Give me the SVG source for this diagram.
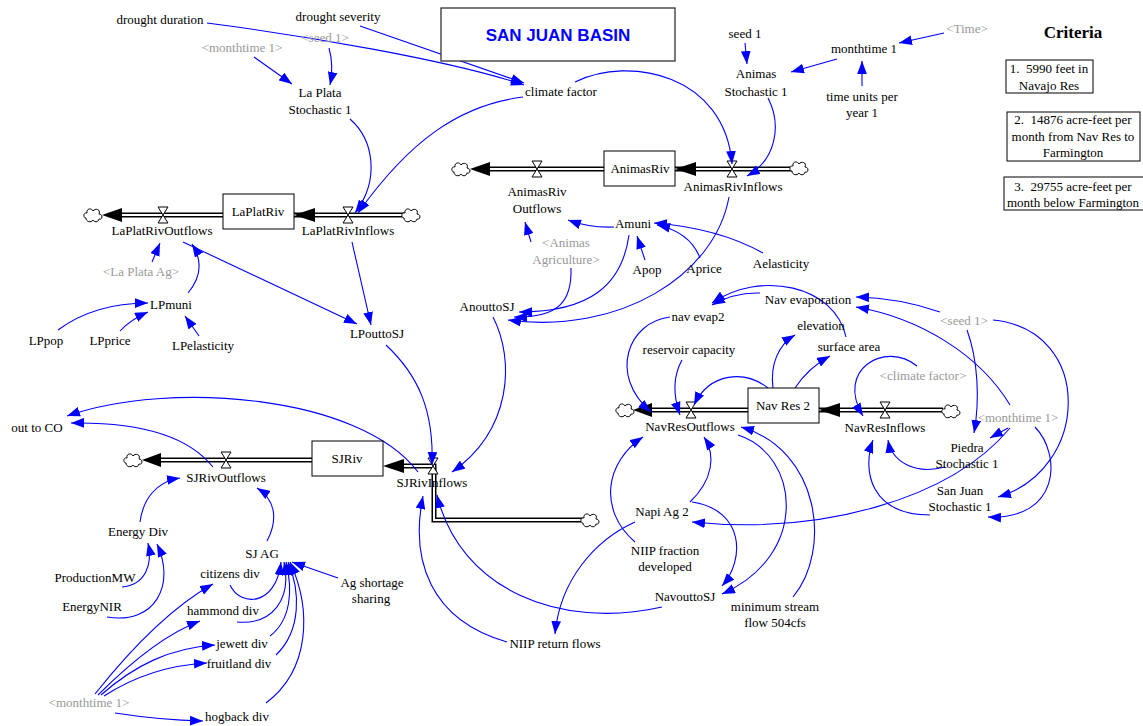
<svg xmlns="http://www.w3.org/2000/svg" width="1143" height="726" viewBox="0 0 1143 726">
<defs>
<style>
text{font-family:"Liberation Serif","Times New Roman",serif;font-size:13px;fill:#000;text-anchor:middle}
.g{fill:#999}
.pre{white-space:pre}
.c{fill:none;stroke:#0000ff;stroke-width:1.1;marker-end:url(#a)}
.box{fill:#fff;stroke:#000;stroke-width:1}
.po{fill:none;stroke:#000;stroke-width:5}
.pi{fill:none;stroke:#fff;stroke-width:2}
.ah{fill:#000}
.vl{fill:#fff;stroke:#000;stroke-width:1}
.cl{fill:#fff;stroke:#000;stroke-width:1}
</style>
<marker id="a" markerUnits="userSpaceOnUse" markerWidth="13" markerHeight="10" refX="12" refY="4.5" orient="auto" viewBox="0 0 12 9"><path d="M0,0 L12,4.5 L0,9 z" fill="#0000ff"/></marker>
<path id="cloud" d="M-7,3 C-10,3 -10,-3 -6,-2 C-7,-7 -1,-7 0,-4 C2,-7 8,-6 6,-1 C10,-1 10,5 6,4 C5,8 1,7 0,5 C-2,8 -7,7 -7,3 Z"/>
<path id="valve" d="M-5,-8 H5 L-5,8 H5 Z"/>
</defs>
<rect width="1143" height="726" fill="#fff"/>

<!-- flows / pipes -->
<g id="pipes">
<!-- La Plata -->
<path class="po" d="M120,215 H223 M294,215 H405"/>
<path class="pi" d="M120,215 H223 M294,215 H405"/>
<polygon class="ah" points="102,215 122,208 122,222"/>
<polygon class="ah" points="294,215 315,208 315,222"/>
<use href="#cloud" class="cl" x="93" y="215"/>
<use href="#cloud" class="cl" x="411" y="215"/>
<use href="#valve" class="vl" x="163" y="215"/>
<use href="#valve" class="vl" x="348" y="215"/>
<!-- Animas -->
<path class="po" d="M488,169 H604 M675,169 H792"/>
<path class="pi" d="M488,169 H604 M675,169 H792"/>
<polygon class="ah" points="470,169 490,162 490,176"/>
<polygon class="ah" points="675,169 696,162 696,176"/>
<use href="#cloud" class="cl" x="461" y="169"/>
<use href="#cloud" class="cl" x="799" y="168"/>
<use href="#valve" class="vl" x="537" y="169"/>
<use href="#valve" class="vl" x="732" y="169"/>
<!-- SJ -->
<path class="po" d="M158,460 H312"/>
<path class="pi" d="M158,460 H312"/>
<path class="po" d="M403,466 H434 V520 H583"/>
<path class="pi" d="M403,466 H434 V520 H583"/>
<polygon class="ah" points="142,460 161,453 161,467"/>
<polygon class="ah" points="383,466 404,459 404,473"/>
<use href="#cloud" class="cl" x="133" y="460"/>
<use href="#cloud" class="cl" x="590" y="520"/>
<use href="#valve" class="vl" x="226" y="460"/>
<use href="#valve" class="vl" x="433" y="466"/>
<!-- Nav -->
<path class="po" d="M650,410 H748 M819,410 H943"/>
<path class="pi" d="M650,410 H748 M819,410 H943"/>
<polygon class="ah" points="633,410 652,403 652,417"/>
<polygon class="ah" points="819,410 840,403 840,417"/>
<use href="#cloud" class="cl" x="625" y="410"/>
<use href="#cloud" class="cl" x="951" y="411"/>
<use href="#valve" class="vl" x="691" y="410"/>
<use href="#valve" class="vl" x="885" y="410"/>
</g>

<!-- connectors -->
<g id="connectors">
<path class="c" d="M207,23 C300,35 450,60 524,85"/>
<path class="c" d="M360,26 L524,83"/>
<path class="c" d="M254,57 L292,84"/>
<path class="c" d="M329,48 Q334,66 330,85"/>
<path class="c" d="M350,119 C374,140 380,180 355,213"/>
<path class="c" d="M523,97 C460,105 410,140 358,213"/>
<path class="c" d="M575,82 C630,55 725,75 732,164"/>
<path class="c" d="M745,43 L747,64"/>
<path class="c" d="M837,59 L791,72"/>
<path class="c" d="M944,33 L899,43"/>
<path class="c" d="M862,86 L862,61"/>
<path class="c" d="M768,98 C782,125 776,160 747,176"/>
<path class="c" d="M729,197 C715,275 620,335 508,320"/>
<path class="c" d="M614,227 Q590,228 568,220"/>
<path class="c" d="M531,242 L525,222"/>
<path class="c" d="M645,260 L637,236"/>
<path class="c" d="M700,258 Q690,232 657,225"/>
<path class="c" d="M763,253 Q718,228 654,223"/>
<path class="c" d="M629,235 C622,285 590,312 519,312"/>
<path class="c" d="M571,268 C572,300 560,318 514,317"/>
<path class="c" d="M152,262 L160,243"/>
<path class="c" d="M188,293 C203,275 201,258 192,244"/>
<path class="c" d="M58,330 C85,310 115,303 148,303"/>
<path class="c" d="M120,331 Q130,320 148,312"/>
<path class="c" d="M199,336 L185,316"/>
<path class="c" d="M183,242 L357,324"/>
<path class="c" d="M352,242 L371,325"/>
<path class="c" d="M386,345 C418,375 434,410 432,465"/>
<path class="c" d="M493,317 C515,360 512,430 452,472"/>
<path class="c" d="M418,472 C360,395 170,380 67,416"/>
<path class="c" d="M213,467 C185,432 130,422 71,423"/>
<path class="c" d="M140,522 C143,500 155,482 180,478"/>
<path class="c" d="M267,541 C278,520 276,500 257,488"/>
<path class="c" d="M122,587 C145,585 153,565 148,543"/>
<path class="c" d="M107,617 C155,625 176,585 157,544"/>
<path class="c" d="M230,585 C240,607 276,607 281,562"/>
<path class="c" d="M237,622 C272,625 292,600 284,562"/>
<path class="c" d="M270,636 C291,620 293,590 286,562"/>
<path class="c" d="M276,655 C302,630 300,590 288,562"/>
<path class="c" d="M266,703 C310,670 312,610 290,562"/>
<path class="c" d="M338,578 L292,562"/>
<path class="c" d="M95,694 C130,650 170,608 213,584"/>
<path class="c" d="M98,695 C130,663 165,634 200,621"/>
<path class="c" d="M101,695 C135,665 170,648 215,645"/>
<path class="c" d="M104,696 C135,676 170,665 207,663"/>
<path class="c" d="M115,713 Q160,720 203,721"/>
<path class="c" d="M670,317 C628,322 608,375 651,412"/>
<path class="c" d="M682,360 C672,378 674,398 680,415"/>
<path class="c" d="M768,388 C745,370 710,372 694,405"/>
<path class="c" d="M773,388 C770,365 778,345 795,335"/>
<path class="c" d="M795,388 Q808,368 830,356"/>
<path class="c" d="M846,337 C835,285 760,270 712,303"/>
<path class="c" d="M760,293 Q735,292 712,305"/>
<path class="c" d="M940,312 Q900,298 856,297"/>
<path class="c" d="M1010,405 C980,355 920,318 856,307"/>
<path class="c" d="M967,330 C978,360 980,400 974,433"/>
<path class="c" d="M993,320 C1095,330 1090,470 998,497"/>
<path class="c" d="M1035,427 C1062,455 1060,520 988,517"/>
<path class="c" d="M1008,428 L990,438"/>
<path class="c" d="M917,366 C885,340 835,370 863,416"/>
<path class="c" d="M945,467 C915,475 892,462 888,440"/>
<path class="c" d="M930,515 C870,515 862,470 873,440"/>
<path class="c" d="M1010,428 C950,500 820,535 692,522"/>
<path class="c" d="M690,502 C713,480 716,455 704,437"/>
<path class="c" d="M635,542 C598,510 605,462 643,437"/>
<path class="c" d="M692,502 C745,510 745,560 722,586"/>
<path class="c" d="M738,435 C800,455 810,555 722,594"/>
<path class="c" d="M793,597 C832,550 820,450 741,427"/>
<path class="c" d="M662,607 C560,630 460,590 437,495"/>
<path class="c" d="M507,642 C430,620 410,560 423,496"/>
<path class="c" d="M635,522 C595,540 560,580 555,634"/>
</g>

<!-- nodes -->
<g id="title"><rect x="441" y="8" width="234" height="53" fill="#fff" stroke="#333" stroke-width="1.3"/><text x="558" y="41" style="font-family:'Liberation Sans',Arial,sans-serif;font-size:17px;font-weight:bold;fill:#0000ff">SAN JUAN BASIN</text></g>
<g id="criteria"><text x="1073" y="38" style="font-size:17px;font-weight:bold">Criteria</text></g>
<g id="crit1"><rect class="box" x="1006" y="60" width="87" height="33"/><text class="pre" x="1049" y="73">1.  5990 feet in</text><text x="1049" y="90">Navajo Res</text></g>
<g id="crit2"><rect class="box" x="1007" y="112" width="133" height="49"/><text class="pre" x="1073" y="124">2.  14876 acre-feet per</text><text x="1073" y="141">month from Nav Res to</text><text x="1073" y="157">Farmington</text></g>
<g id="crit3"><rect class="box" x="1004" y="177" width="142" height="33"/><text class="pre" x="1073" y="191">3.  29755 acre-feet per</text><text x="1073" y="207">month below Farmington</text></g>

<g id="drought_duration"><text x="160" y="24">drought duration</text></g>
<g id="drought_severity"><text x="338" y="21">drought severity</text></g>
<g id="monthtime1_ref_a"><text class="g" x="242" y="52">&lt;monthtime 1&gt;</text></g>
<g id="seed1_ref_a"><text class="g" x="325" y="42">&lt;seed 1&gt;</text></g>
<g id="la_plata_stochastic"><text x="320" y="97">La Plata</text><text x="320" y="114">Stochastic 1</text></g>
<g id="climate_factor"><text x="561" y="96">climate factor</text></g>
<g id="seed1"><text x="745" y="38">seed 1</text></g>
<g id="animas_stochastic"><text x="756" y="78">Animas</text><text x="756" y="96">Stochastic 1</text></g>
<g id="monthtime1"><text x="864" y="53">monthtime 1</text></g>
<g id="time_ref"><text class="g" x="967" y="33">&lt;Time&gt;</text></g>
<g id="time_units"><text x="862" y="101">time units per</text><text x="862" y="117">year 1</text></g>

<g id="LaPlatRiv"><rect class="box" x="223" y="194" width="71" height="35"/><text x="258" y="216">LaPlatRiv</text></g>
<g id="LaPlatRivOutflows"><text x="162" y="235">LaPlatRivOutflows</text></g>
<g id="LaPlatRivInflows"><text x="348" y="235">LaPlatRivInflows</text></g>
<g id="la_plata_ag_ref"><text class="g" x="141" y="276">&lt;La Plata Ag&gt;</text></g>
<g id="LPmuni"><text x="171" y="309">LPmuni</text></g>
<g id="LPpop"><text x="46" y="345">LPpop</text></g>
<g id="LPprice"><text x="110" y="345">LPprice</text></g>
<g id="LPelasticity"><text x="203" y="350">LPelasticity</text></g>
<g id="LPouttoSJ"><text x="377" y="338">LPouttoSJ</text></g>

<g id="AnimasRiv"><rect class="box" x="604" y="151" width="71" height="35"/><text x="640" y="173">AnimasRiv</text></g>
<g id="AnimasRivOutflows"><text x="537" y="196">AnimasRiv</text><text x="537" y="213">Outflows</text></g>
<g id="AnimasRivInflows"><text x="733" y="191">AnimasRivInflows</text></g>
<g id="Amuni"><text x="633" y="228">Amuni</text></g>
<g id="animas_ag_ref"><text class="g" x="566" y="247">&lt;Animas</text><text class="g" x="566" y="264">Agriculture&gt;</text></g>
<g id="Apop"><text x="647" y="274">Apop</text></g>
<g id="Aprice"><text x="704" y="273">Aprice</text></g>
<g id="Aelasticity"><text x="781" y="268">Aelasticity</text></g>
<g id="AnouttoSJ"><text x="487" y="311">AnouttoSJ</text></g>

<g id="nav_evap2"><text x="698" y="321">nav evap2</text></g>
<g id="nav_evaporation"><text x="808" y="304">Nav evaporation</text></g>
<g id="elevation"><text x="821" y="330">elevation</text></g>
<g id="surface_area"><text x="849" y="351">surface area</text></g>
<g id="reservoir_capacity"><text x="689" y="354">reservoir capacity</text></g>
<g id="NavRes2"><rect class="box" x="748" y="388" width="71" height="35"/><text x="783" y="410">Nav Res 2</text></g>
<g id="NavResOutflows"><text x="690" y="431">NavResOutflows</text></g>
<g id="NavResInflows"><text x="885" y="432">NavResInflows</text></g>
<g id="climate_factor_ref"><text class="g" x="923" y="380">&lt;climate factor&gt;</text></g>
<g id="seed1_ref_b"><text class="g" x="964" y="325">&lt;seed 1&gt;</text></g>
<g id="monthtime1_ref_b"><text class="g" x="1018" y="422">&lt;monthtime 1&gt;</text></g>
<g id="piedra_stochastic"><text x="967" y="452">Piedra</text><text x="967" y="468">Stochastic 1</text></g>
<g id="san_juan_stochastic"><text x="960" y="495">San Juan</text><text x="960" y="511">Stochastic 1</text></g>

<g id="SJRiv"><rect class="box" x="312" y="441" width="71" height="35"/><text x="347" y="463">SJRiv</text></g>
<g id="SJRivOutflows"><text x="226" y="482">SJRivOutflows</text></g>
<g id="SJRivInflows"><text x="432" y="487">SJRivInflows</text></g>
<g id="out_to_CO"><text x="37" y="432">out to CO</text></g>
<g id="energy_div"><text x="138" y="536">Energy Div</text></g>
<g id="ProductionMW"><text x="95" y="582">ProductionMW</text></g>
<g id="EnergyNIR"><text x="92" y="611">EnergyNIR</text></g>
<g id="SJ_AG"><text x="262" y="558">SJ AG</text></g>
<g id="citizens_div"><text x="230" y="578">citizens div</text></g>
<g id="hammond_div"><text x="223" y="615">hammond div</text></g>
<g id="jewett_div"><text x="242" y="648">jewett div</text></g>
<g id="fruitland_div"><text x="239" y="668">fruitland div</text></g>
<g id="monthtime1_ref_c"><text class="g" x="89" y="707">&lt;monthtime 1&gt;</text></g>
<g id="hogback_div"><text x="237" y="721">hogback div</text></g>
<g id="ag_shortage"><text x="372" y="587">Ag shortage</text><text x="371" y="603">sharing</text></g>
<g id="napi_ag2"><text x="662" y="516">Napi Ag 2</text></g>
<g id="niip_fraction"><text x="665" y="555">NIIP fraction</text><text x="665" y="571">developed</text></g>
<g id="NavouttoSJ"><text x="685" y="601">NavouttoSJ</text></g>
<g id="min_stream_flow"><text x="775" y="611">minimum stream</text><text x="775" y="627">flow 504cfs</text></g>
<g id="niip_return"><text x="555" y="648">NIIP return flows</text></g>
</svg>
